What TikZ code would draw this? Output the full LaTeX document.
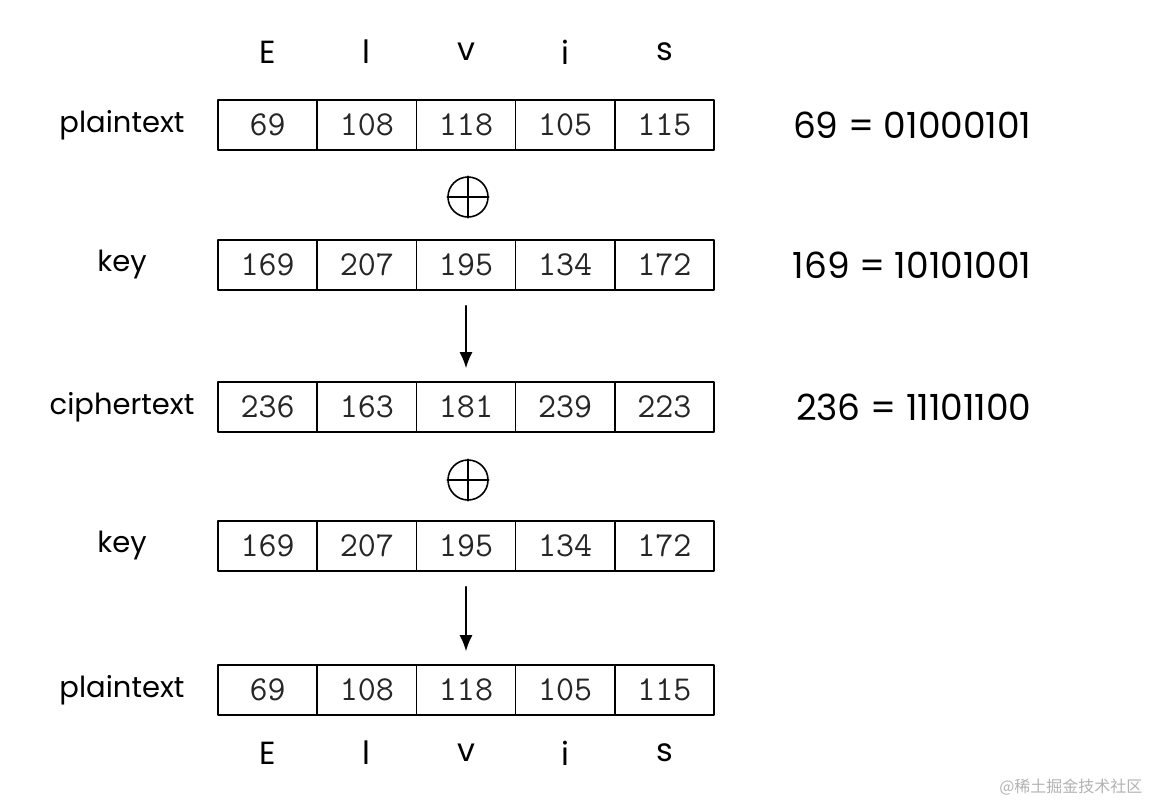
\documentclass[tikz,border=0pt]{standalone}
\usepackage{fontspec}
\usetikzlibrary{arrows.meta}
\newfontfamily\lblfont{Poppins}
\newfontfamily\cjkfont{Noto Sans CJK SC}

\begin{document}
\begin{tikzpicture}[x=1pt,y=-1pt,line cap=round,line join=round,
  cell/.style={draw,line width=1.6pt,minimum width=99.2pt,minimum height=50pt,inner sep=0pt,
    font=\ttfamily\fontsize{35}{35}\selectfont,text=black!85},
  rowname/.style={font=\lblfont\fontsize{29}{29}\selectfont},
  letter/.style={font=\lblfont\fontsize{32}{32}\selectfont},
  eqn/.style={anchor=east,font=\lblfont\fontsize{36}{36}\selectfont},
  xorop/.style={circle,draw,line width=1.6pt,minimum size=40pt,inner sep=0pt},
  flow/.style={line width=1.6pt,-{Latex[length=16pt,width=13pt]}}]
  \useasboundingbox (0,0) rectangle (1154,806);
  % the five rows of bytes
  \foreach \r/\y/\name/\vals in {
      pa/125/plaintext/{69,108,118,105,115},
      ka/265/key/{169,207,195,134,172},
      ca/407/ciphertext/{236,163,181,239,223},
      kb/546/key/{169,207,195,134,172},
      pb/690/plaintext/{69,108,118,105,115}}{
    \node[rowname] (\r-name) at (122,\y) {\name};
    \foreach \v [count=\i] in \vals
      \node[cell] (\r-\i) at ({218+99.2*(\i-0.5)},\y) {\v};
  }
  % letters above and below
  \foreach \c [count=\i] in {E,l,v,i,s}{
    \node[letter] (top-\i) at ({218+99.2*(\i-0.5)},52) {\c};
    \node[letter] (bot-\i) at ({218+99.2*(\i-0.5)},753) {\c};
  }
  % binary forms
  \node[eqn] (eqa) at (1035,125) {69 = 01000101};
  \node[eqn] (eqb) at (1035,265) {169 = 10101001};
  \node[eqn] (eqc) at (1035,407) {236 = 11101100};
  % xor signs
  \node[xorop] (xa) at (468,197) {};
  \node[xorop] (xb) at (468,480) {};
  \draw[line width=1.6pt] (xa.north)--(xa.south) (xa.west)--(xa.east)
                          (xb.north)--(xb.south) (xb.west)--(xb.east);
  % arrows
  \draw[flow,shorten <=15pt,shorten >=13pt] (ka-3.south) -- (ca-3.north);
  \draw[flow,shorten <=15pt,shorten >=13pt] (kb-3.south) -- (pb-3.north);
  \node[anchor=east,text=black!30,font=\cjkfont\fontsize{16}{16}\selectfont] (mark) at (1146,787) {@稀土掘金技术社区};
\end{tikzpicture}
\end{document}
